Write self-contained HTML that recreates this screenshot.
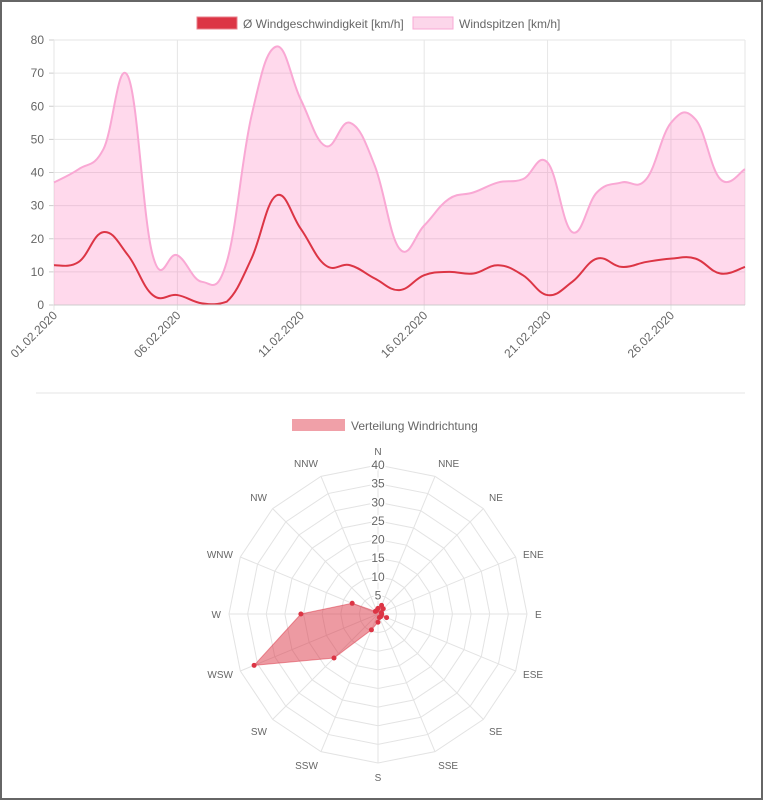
<!DOCTYPE html>
<html><head><meta charset="utf-8"><style>
html,body{margin:0;padding:0;background:#fff}
#w{position:relative;width:759px;height:796px;border:2px solid #666;overflow:hidden}
svg{position:absolute;left:-2px;top:-2px}
text{font-family:"Liberation Sans",sans-serif;fill:#666}
</style></head><body><div id="w">
<svg id="s" width="763" height="800" xmlns="http://www.w3.org/2000/svg"></svg>
</div>
<script>
const s=document.getElementById('s');let h='';
const X0=54,X1=745,Y0=305,YS=265/80;
const xi=i=>X0+i*(X1-X0)/28, yv=v=>Y0-v*YS;
for(let v=0;v<=80;v+=10){h+=`<line x1="${X0}" x2="${X1}" y1="${yv(v)}" y2="${yv(v)}" stroke="#e6e6e6"/>`;
h+=`<line x1="${X0-5}" x2="${X0}" y1="${yv(v)}" y2="${yv(v)}" stroke="#ccc"/>`;
h+=`<text x="${X0-10}" y="${yv(v)+4}" font-size="12" text-anchor="end">${v}</text>`;}
const labs=['01.02.2020','06.02.2020','11.02.2020','16.02.2020','21.02.2020','26.02.2020'];
labs.forEach((l,k)=>{const x=xi(k*5);h+=`<line x1="${x}" x2="${x}" y1="40" y2="310" stroke="#e6e6e6"/>`;
h+=`<text transform="translate(${x+4},${316}) rotate(-45)" font-size="12" text-anchor="end">${l}</text>`;});
h+=`<line x1="${X1}" x2="${X1}" y1="40" y2="305" stroke="#e6e6e6"/>`;
const pk=[37,41,47,69,15,15,7,13,57,78,62,48,55,42,17,24,32,34,37,38,43,22,34,37,38,55,56,38,41];
const av=[12,13,22,15,3,3,0.5,1,14,33,23,12,12,8,4.5,9,10,9.5,12,9,3,7,14,11.5,13,14,14,9.5,11.5];
function path(a){const p=a.map((v,i)=>[xi(i),yv(v)]);let d=`M${p[0][0]},${p[0][1]}`;const t=0.4;const cl=y=>Math.min(y,Y0);
for(let i=0;i<p.length-1;i++){const p0=p[i-1]||p[i],p1=p[i],p2=p[i+1],p3=p[i+2]||p2;
d+=` C${p1[0]+(p2[0]-p0[0])*t/2},${cl(p1[1]+(p2[1]-p0[1])*t/2)} ${p2[0]-(p3[0]-p1[0])*t/2},${cl(p2[1]-(p3[1]-p1[1])*t/2)} ${p2[0]},${p2[1]}`;}return d;}
const pp=path(pk);
h+=`<path d="${pp} L${X1},${Y0} L${X0},${Y0}Z" fill="rgba(255,105,180,0.25)"/>`;
h+=`<path d="${pp}" fill="none" stroke="#f9a8d4" stroke-width="2"/>`;
h+=`<path d="${path(av)}" fill="none" stroke="#dc3545" stroke-width="2"/>`;
h+=`<line x1="${X0}" x2="${X1}" y1="${Y0}" y2="${Y0}" stroke="#ccc"/>`;
h+=`<rect x="197" y="17" width="40" height="12" fill="#dc3545" stroke="#e8808c"/><text x="243" y="28" font-size="12">Ø Windgeschwindigkeit [km/h]</text>`;
h+=`<rect x="413" y="17" width="40" height="12" fill="#fcd6ea" stroke="#f9a8d4"/><text x="459" y="28" font-size="12">Windspitzen [km/h]</text>`;
h+=`<line x1="36" x2="745" y1="393" y2="393" stroke="#e6e6e6"/>`;
const cx=378,cy=614,R=149;const dirs=['N','NNE','NE','ENE','E','ESE','SE','SSE','S','SSW','SW','WSW','W','WNW','NW','NNW'];
const pt=(k,r)=>{const a=-Math.PI/2+k*Math.PI/8;return [cx+r*Math.cos(a),cy+r*Math.sin(a)];};
for(let v=5;v<=40;v+=5){const r=v/40*R;h+=`<polygon points="${dirs.map((_,k)=>pt(k,r).join(',')).join(' ')}" fill="none" stroke="#e3e3e3"/>`;}
dirs.forEach((d,k)=>{const e=pt(k,R);h+=`<line x1="${cx}" y1="${cy}" x2="${e[0]}" y2="${e[1]}" stroke="#e3e3e3"/>`;
const l=pt(k,R+8);const a=-Math.PI/2+k*Math.PI/8;const c=Math.cos(a),sn=Math.sin(a);
const anc=Math.abs(c)<0.1?'middle':(c>0?'start':'end');const dy=sn<-0.5?-2:(sn>0.5?10:4);
h+=`<text x="${l[0]}" y="${l[1]+dy}" font-size="10" text-anchor="${anc}">${d}</text>`;});
for(let v=5;v<=40;v+=5){const r=v/40*R;h+=`<text x="${cx}" y="${cy-r+4}" font-size="12" text-anchor="middle" style="paint-order:stroke" stroke="#fff" stroke-width="3">${v}</text>`;}
const rv=[1.5,2.5,2,1,1,2.5,1,1,2.2,4.6,16.7,36,20.7,7.5,1,1];
const pts=rv.map((v,k)=>pt(k,v/40*R));
h+=`<polygon points="${pts.map(p=>p.join(',')).join(' ')}" fill="rgba(220,53,69,0.5)" stroke="rgba(220,53,69,0.5)"/>`;
pts.forEach(p=>h+=`<circle cx="${p[0]}" cy="${p[1]}" r="2.5" fill="#dc3545"/>`);
h+=`<rect x="292" y="419" width="53" height="12" fill="#f0a0a8"/><text x="351" y="430" font-size="12">Verteilung Windrichtung</text>`;
s.innerHTML=h;
</script></body></html>
